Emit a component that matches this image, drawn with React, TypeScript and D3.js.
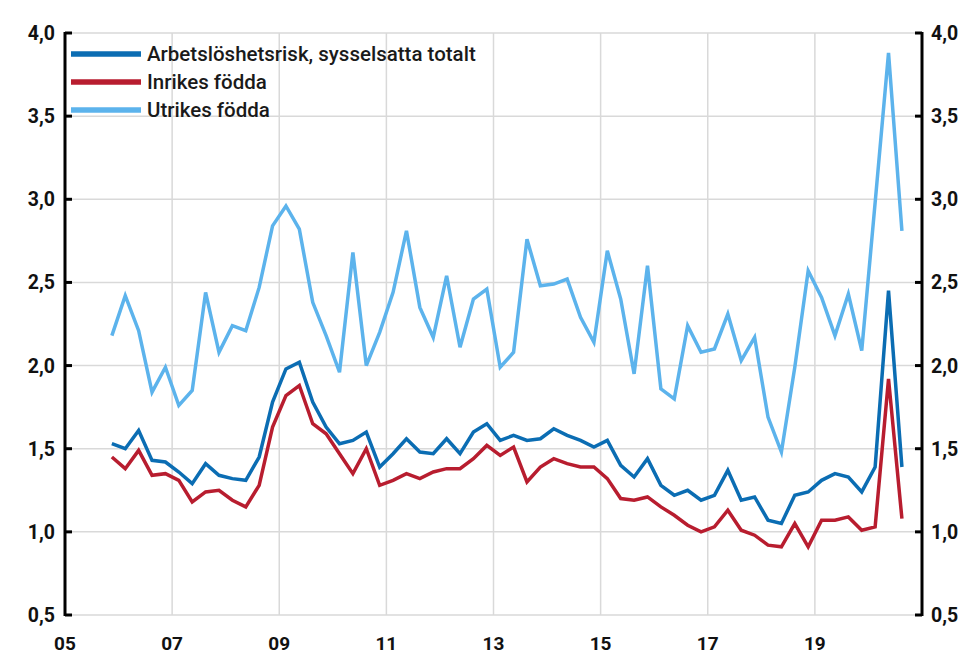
import React from "react";
import * as d3 from "d3";

const seriesNames = ["Arbetslöshetsrisk, sysselsatta totalt", "Inrikes födda", "Utrikes födda"];
const seriesColors = ["#0b6db3", "#b81d2f", "#5cb3ec"];

// quarterly, 2005Q4 .. 2020Q3
const startYear = 2005.875;
const totalt = [
  1.53, 1.50, 1.61, 1.43, 1.42, 1.36, 1.29, 1.41, 1.34, 1.32, 1.31, 1.45,
  1.78, 1.98, 2.02, 1.78,
  1.63, 1.53, 1.55, 1.60, 1.39,
  1.47, 1.56, 1.48, 1.47, 1.56, 1.47, 1.60, 1.65, 1.55, 1.58, 1.55, 1.56, 1.62, 1.58, 1.55,
  1.51, 1.55, 1.40, 1.33, 1.44, 1.28, 1.22, 1.25, 1.19, 1.22, 1.37, 1.19, 1.21, 1.07, 1.05, 1.22,
  1.24, 1.31, 1.35, 1.33, 1.24, 1.39, 2.45, 1.39,
];
const inrikes = [
  1.45, 1.38, 1.49, 1.34, 1.35, 1.31, 1.18, 1.24, 1.25, 1.19, 1.15, 1.28,
  1.63, 1.82, 1.88, 1.65,
  1.59, 1.47, 1.35, 1.50, 1.28,
  1.31, 1.35, 1.32, 1.36, 1.38, 1.38, 1.44, 1.52, 1.46, 1.51, 1.30, 1.39, 1.44, 1.41, 1.39,
  1.39, 1.32, 1.20, 1.19, 1.21, 1.15, 1.10, 1.04, 1.00, 1.03, 1.13, 1.01, 0.98, 0.92, 0.91, 1.05,
  0.91, 1.07, 1.07, 1.09, 1.01, 1.03, 1.92, 1.08,
];
const utrikes = [
  2.18, 2.42, 2.21, 1.84, 1.99, 1.76, 1.85, 2.44, 2.08, 2.24, 2.21, 2.47, 2.84, 2.96, 2.82, 2.38,
  2.18, 1.96, 2.68, 2.00, 2.20,
  2.44, 2.81, 2.35, 2.17, 2.54, 2.11, 2.40, 2.46, 1.99, 2.08, 2.76, 2.48, 2.49, 2.52, 2.29, 2.14,
  2.69, 2.40, 1.95, 2.60, 1.86, 1.80,
  2.24, 2.08, 2.10, 2.31, 2.03, 2.17, 1.69, 1.48, 1.99, 2.57, 2.41, 2.18, 2.43, 2.09, 2.98, 3.88, 2.81,
];
const yTicks = [0.5, 1.0, 1.5, 2.0, 2.5, 3.0, 3.5, 4.0];
const xTicks = [2005, 2007, 2009, 2011, 2013, 2015, 2017, 2019];

const W = 972;
const H = 655;
const left = 65;
const right = 922;
const top = 33;
const bottom = 615;

export default function App() {
  const x = d3.scaleLinear().domain([2005, 2021]).range([left, right]);
  const y = d3.scaleLinear().domain([0.5, 4.0]).range([bottom, top]);
  const fmt = (v: number) => v.toFixed(1).replace(".", ",");
  const line = d3
    .line<number>()
    .x((_, i) => x(startYear + i * 0.25))
    .y((d) => y(d));
  const series = [totalt, inrikes, utrikes];
  const font = "Roboto, 'Open Sans', sans-serif";
  const gridYears = d3.range(2007, 2021, 2);

  return (
    <svg
      width={W}
      height={H}
      style={{ position: "absolute", left: 0, top: 0, background: "#fff" }}
      fontFamily={font}
    >
      <rect width={W} height={H} fill="#fff" />
      {/* grid */}
      {yTicks.map((t) => (
        <line key={"gy" + t} x1={left} x2={right} y1={y(t)} y2={y(t)} stroke="#d9d9d9" strokeWidth={1.5} />
      ))}
      {gridYears.map((t) => (
        <line key={"gx" + t} x1={x(t)} x2={x(t)} y1={top} y2={bottom} stroke="#d9d9d9" strokeWidth={1.5} />
      ))}
      {/* lines */}
      {series.map((s, k) => (
        <path
          key={"s" + k}
          d={line(s) || ""}
          fill="none"
          stroke={seriesColors[k]}
          strokeWidth={3.5}
          strokeLinejoin="miter"
        />
      ))}
      {/* axes */}
      <line x1={left} x2={left} y1={top - 1} y2={bottom + 1} stroke="#000" strokeWidth={3} />
      <line x1={right} x2={right} y1={top - 1} y2={bottom + 1} stroke="#000" strokeWidth={3} />
      {yTicks.map((t) => (
        <g key={"t" + t}>
          <line x1={left} x2={left + 7} y1={y(t)} y2={y(t)} stroke="#000" strokeWidth={3} />
          <line x1={right - 7} x2={right} y1={y(t)} y2={y(t)} stroke="#000" strokeWidth={3} />
          <text x={55} y={y(t)} dy="0.36em" textAnchor="end" fontSize={19.5} fontWeight={700} fill="#111">
            {fmt(t)}
          </text>
          <text x={931} y={y(t)} dy="0.36em" textAnchor="start" fontSize={19.5} fontWeight={700} fill="#111">
            {fmt(t)}
          </text>
        </g>
      ))}
      {xTicks.map((t) => (
        <text key={"x" + t} x={x(t)} y={650} textAnchor="middle" fontSize={19} fontWeight={700} fill="#111">
          {String(t % 100).padStart(2, "0")}
        </text>
      ))}
      {/* legend */}
      {seriesNames.map((n, k) => (
        <g key={"l" + k} transform={`translate(0, ${54 + k * 28})`}>
          <line x1={71} x2={141} y1={0} y2={0} stroke={seriesColors[k]} strokeWidth={5.5} />
          <text x={147} y={0} dy="0.36em" fontSize={20.5} fontWeight={500} fill="#1a1a1a">
            {n}
          </text>
        </g>
      ))}
    </svg>
  );
}
